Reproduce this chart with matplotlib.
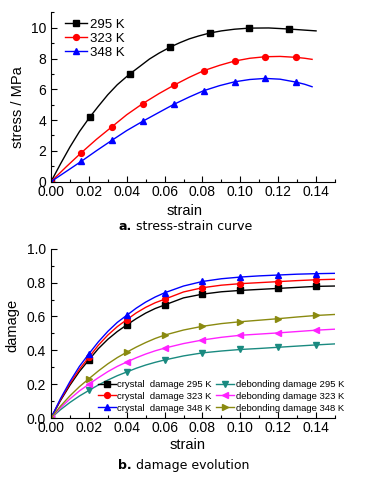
"""Stress-strain curves and damage evolution at three temperatures."""

import matplotlib

matplotlib.use("Agg")

import matplotlib.pyplot as plt
from matplotlib.ticker import MultipleLocator

plt.rcParams["font.family"] = ["Liberation Sans", "DejaVu Sans"]

# --- (a) stress-strain: smooth curve points and marker points
temps = ["295 K", "323 K", "348 K"]
stress_colors = ["black", "red", "blue"]
stress_markers = ["s", "o", "^"]

curve_x_295 = [0, 0.005, 0.010, 0.015, 0.0204, 0.025, 0.030, 0.035, 0.0415, 0.047, 0.052, 0.057,
               0.063, 0.068, 0.073, 0.078, 0.0838, 0.090, 0.097, 0.1048, 0.115, 0.1259, 0.134, 0.140]
curve_y_295 = [0, 1.15, 2.25, 3.25, 4.18, 4.90, 5.65, 6.30, 6.99, 7.50, 7.97, 8.35,
               8.75, 9.03, 9.28, 9.47, 9.66, 9.80, 9.91, 9.98, 9.99, 9.92, 9.85, 9.80]
curve_x_323 = [0, 0.008, 0.016, 0.024, 0.0322, 0.040, 0.0484, 0.057, 0.0648, 0.073, 0.0806,
               0.089, 0.097, 0.105, 0.1132, 0.121, 0.1294, 0.134, 0.1379]
curve_y_323 = [0, 0.96, 1.88, 2.75, 3.57, 4.35, 5.07, 5.72, 6.26, 6.78, 7.21,
               7.56, 7.84, 8.02, 8.12, 8.14, 8.08, 8.02, 7.95]
curve_x_348 = [0, 0.008, 0.016, 0.024, 0.0322, 0.040, 0.0484, 0.057, 0.0648, 0.073, 0.0806,
               0.089, 0.097, 0.105, 0.1132, 0.121, 0.1294, 0.134, 0.1379]
curve_y_348 = [0, 0.66, 1.32, 2.01, 2.69, 3.32, 3.92, 4.50, 5.02, 5.50, 5.91,
               6.24, 6.49, 6.64, 6.71, 6.66, 6.47, 6.33, 6.17]

mark_x_295 = [0, 0.0204, 0.0415, 0.063, 0.0838, 0.1048, 0.1259]
mark_y_295 = [0, 4.18, 6.99, 8.75, 9.66, 9.98, 9.92]
mark_x_323 = [0, 0.016, 0.0322, 0.0484, 0.0648, 0.0806, 0.097, 0.1132, 0.1294]
mark_y_323 = [0, 1.88, 3.57, 5.07, 6.26, 7.21, 7.84, 8.12, 8.08]
mark_x_348 = [0, 0.016, 0.0322, 0.0484, 0.0648, 0.0806, 0.097, 0.1132, 0.1294]
mark_y_348 = [0, 1.32, 2.69, 3.92, 5.02, 5.91, 6.49, 6.71, 6.47]

# --- (b) damage evolution
damage_labels = [
    "crystal  damage 295 K", "crystal  damage 323 K", "crystal  damage 348 K",
    "debonding damage 295 K", "debonding damage 323 K", "debonding damage 348 K",
]
damage_colors = ["black", "red", "blue", "#1a8a80", "#ff22ff", "#8a8a10"]
damage_markers = ["s", "o", "^", "v", "<", ">"]

damage_curve_x = [0, 0.005, 0.01, 0.015, 0.02, 0.025, 0.03, 0.035, 0.04, 0.045, 0.05, 0.055, 0.06,
                  0.07, 0.08, 0.09, 0.10, 0.11, 0.12, 0.13, 0.14, 0.15]
crystal_295 = [0, 0.103, 0.194, 0.275, 0.343, 0.41, 0.465, 0.511, 0.55, 0.587, 0.62, 0.647, 0.668,
               0.71, 0.732, 0.746, 0.754, 0.76, 0.766, 0.772, 0.778, 0.78]
crystal_323 = [0, 0.108, 0.203, 0.288, 0.359, 0.43, 0.49, 0.54, 0.581, 0.621, 0.654, 0.681, 0.702,
               0.745, 0.77, 0.785, 0.794, 0.80, 0.806, 0.812, 0.817, 0.82]
crystal_348 = [0, 0.114, 0.215, 0.305, 0.379, 0.45, 0.512, 0.565, 0.607, 0.649, 0.685, 0.715, 0.74,
               0.78, 0.807, 0.823, 0.833, 0.84, 0.845, 0.85, 0.853, 0.855]
debond_295 = [0, 0.049, 0.092, 0.13, 0.163, 0.195, 0.224, 0.25, 0.272, 0.294, 0.313, 0.329, 0.343,
              0.367, 0.385, 0.396, 0.405, 0.411, 0.418, 0.425, 0.432, 0.438]
debond_323 = [0, 0.06, 0.113, 0.16, 0.20, 0.238, 0.274, 0.305, 0.331, 0.356, 0.378, 0.397, 0.413,
              0.44, 0.461, 0.477, 0.489, 0.496, 0.503, 0.511, 0.519, 0.525]
debond_348 = [0, 0.07, 0.131, 0.185, 0.232, 0.278, 0.32, 0.357, 0.389, 0.419, 0.446, 0.47, 0.49,
              0.52, 0.542, 0.558, 0.569, 0.578, 0.587, 0.597, 0.606, 0.612]

damage_mark_x = [0, 0.02, 0.04, 0.06, 0.08, 0.10, 0.12, 0.14]
damage_series = [crystal_295, crystal_323, crystal_348, debond_295, debond_323, debond_348]

MS = 4.2


def style_axes(ax):
    ax.spines["top"].set_visible(False)
    ax.spines["right"].set_visible(False)
    ax.tick_params(which="both", direction="in", labelsize=10, width=0.8)
    ax.tick_params(which="major", length=4)
    ax.tick_params(which="minor", length=2.5)
    ax.tick_params(axis="x", pad=2.5)


fig = plt.figure(figsize=(3.68, 4.78), dpi=100)

# top panel
ax1 = fig.add_axes([0.1386, 0.620, 0.7717, 0.354])
curves = [(curve_x_295, curve_y_295), (curve_x_323, curve_y_323), (curve_x_348, curve_y_348)]
marks = [(mark_x_295, mark_y_295), (mark_x_323, mark_y_323), (mark_x_348, mark_y_348)]
for (cx, cy), (mx, my), label, color, marker in zip(curves, marks, temps, stress_colors, stress_markers):
    ax1.plot(cx, cy, color=color, lw=1.0)
    ax1.plot(mx, my, color=color, marker=marker, ms=MS, ls="none")
    ax1.plot([], [], color=color, marker=marker, ms=MS, lw=1.0, label=label)
ax1.set_xlim(0, 0.15)
ax1.set_ylim(0, 11)
ax1.xaxis.set_major_locator(MultipleLocator(0.02))
ax1.xaxis.set_minor_locator(MultipleLocator(0.01))
ax1.yaxis.set_major_locator(MultipleLocator(2))
ax1.yaxis.set_minor_locator(MultipleLocator(1))
ax1.xaxis.set_major_formatter(lambda v, p: f"{v:.2f}")
style_axes(ax1)
ax1.set_xlabel("strain", fontsize=10.5, labelpad=2)
ax1.set_ylabel("stress / MPa", fontsize=10.5, labelpad=4)
ax1.xaxis.set_label_coords(0.47, -0.13)
ax1.yaxis.set_label_coords(-0.09, 0.44)
ax1.legend(loc="upper left", bbox_to_anchor=(0.02, 1.01), frameon=False, fontsize=9.5,
           handlelength=1.7, handletextpad=0.2, labelspacing=0.12, borderaxespad=0.2)

# bottom panel
ax2 = fig.add_axes([0.1386, 0.1255, 0.7717, 0.354])
for ys, label, color, marker in zip(damage_series, damage_labels, damage_colors, damage_markers):
    ax2.plot(damage_curve_x, ys, color=color, lw=1.0)
    ax2.plot(damage_mark_x, [ys[damage_curve_x.index(x)] for x in damage_mark_x],
             color=color, marker=marker, ms=MS, ls="none")
    ax2.plot([], [], color=color, marker=marker, ms=MS, lw=1.0, label=label)
ax2.set_xlim(0, 0.15)
ax2.set_ylim(0, 1.0)
ax2.xaxis.set_major_locator(MultipleLocator(0.02))
ax2.xaxis.set_minor_locator(MultipleLocator(0.01))
ax2.yaxis.set_major_locator(MultipleLocator(0.2))
ax2.yaxis.set_minor_locator(MultipleLocator(0.1))
ax2.xaxis.set_major_formatter(lambda v, p: f"{v:.2f}")
ax2.yaxis.set_major_formatter(lambda v, p: f"{v:.1f}")
style_axes(ax2)
ax2.set_xlabel("strain", fontsize=10.5, labelpad=2)
ax2.set_ylabel("damage", fontsize=10.5, labelpad=4)
ax2.xaxis.set_label_coords(0.48, -0.12)
ax2.yaxis.set_label_coords(-0.11, 0.55)
ax2.legend(loc="lower right", bbox_to_anchor=(0.945, 0.129), bbox_transform=fig.transFigure,
           ncol=2, frameon=False, fontsize=6.8, handlelength=1.9, handletextpad=0.2,
           labelspacing=0.3, columnspacing=0.4, borderaxespad=0.0)

# captions
cap_font = "DejaVu Sans"
fig.text(0.357, 0.526, "a.", fontsize=9, fontweight="bold", ha="right", va="center", family=cap_font)
fig.text(0.359, 0.526, " stress-strain curve", fontsize=9, ha="left", va="center", family=cap_font)
fig.text(0.357, 0.027, "b.", fontsize=9, fontweight="bold", ha="right", va="center", family=cap_font)
fig.text(0.359, 0.027, " damage evolution", fontsize=9, ha="left", va="center", family=cap_font)

fig.savefig("out.png", dpi=100)
plt.close(fig)
